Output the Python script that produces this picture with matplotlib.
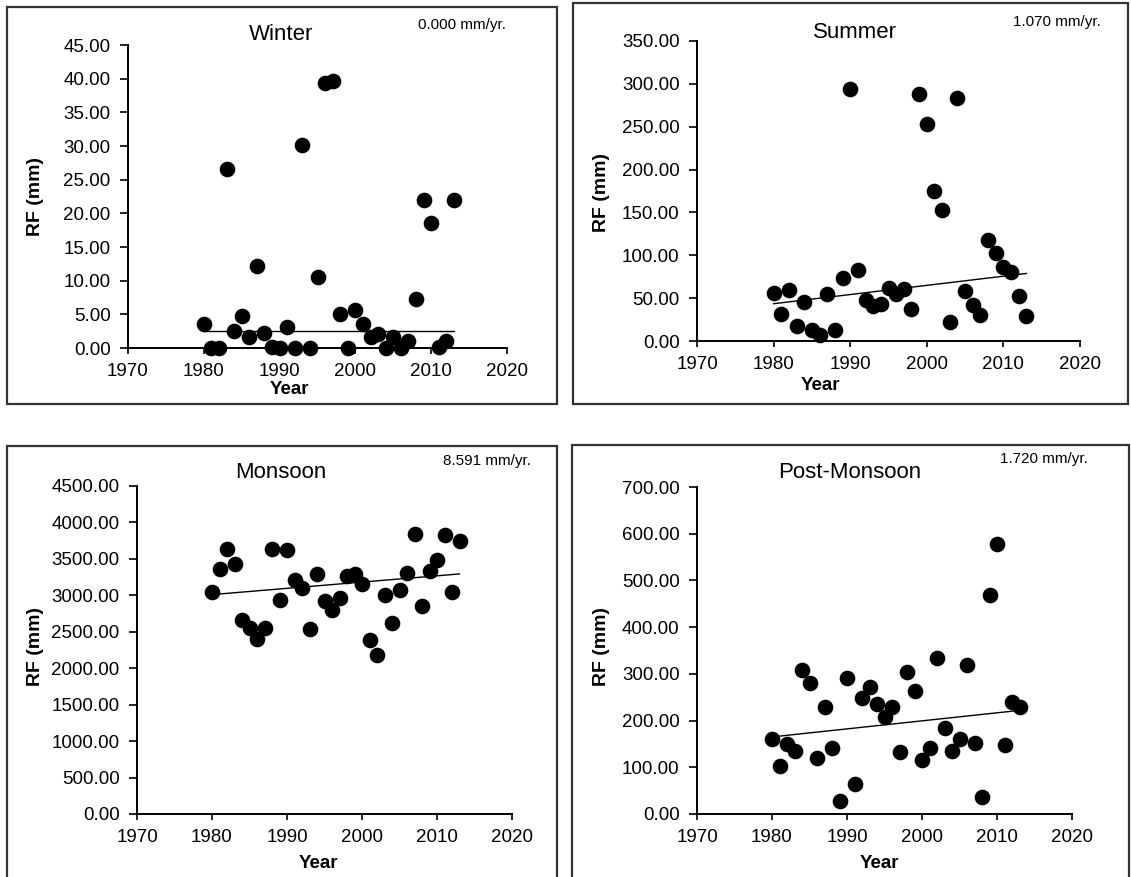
import numpy as np
import matplotlib.pyplot as plt
from matplotlib.patches import Rectangle
from matplotlib.ticker import FormatStrFormatter

W, H = 1131, 877

years = np.arange(1980, 2014)

# seasonal rainfall (mm), 1980-2013
winter = [3.6, 0.0, 0.0, 26.6, 2.5, 4.8, 1.6, 12.2, 2.3, 0.2, 0.0, 3.1, 0.0, 30.2, 0.0, 10.6, 39.4,
          39.7, 5.1, 0.0, 5.6, 3.5, 1.6, 2.1, 0.0, 1.7, 0.0, 1.1, 7.3, 22.0, 18.6, 0.2, 1.1, 22.0]
summer = [56.4, 31.9, 59.1, 17.1, 45.5, 12.4, 6.6, 54.5, 13.2, 73.9, 294.4, 83.2, 47.5, 40.4, 43.6,
          62.2, 55.2, 61.1, 37.0, 287.8, 253.6, 174.6, 152.5, 22.2, 283.9, 58.3, 41.6, 30.7, 118.2,
          102.7, 86.3, 80.5, 52.5, 28.8]
monsoon = [3047, 3367, 3641, 3435, 2659, 2545, 2398, 2558, 3641, 2942, 3618, 3207, 3107, 2535, 3289,
           2924, 2796, 2969, 3266, 3289, 3152, 2385, 2179, 3001, 2622, 3070, 3312, 3847, 2855, 3330,
           3490, 3824, 3047, 3746]
post_monsoon = [159.7, 103.4, 149.7, 135.4, 307.9, 279.4, 119.0, 228.0, 140.4, 27.8, 291.5, 63.4,
                247.3, 270.8, 235.2, 208.1, 228.0, 131.9, 304.3, 263.7, 115.5, 140.4, 335.0, 183.2,
                135.4, 160.4, 320.0, 151.1, 35.6, 468.3, 577.3, 147.5, 240.2, 228.0]

titles = ["Winter", "Summer", "Monsoon", "Post-Monsoon"]
series = [winter, summer, monsoon, post_monsoon]
slopes = [0.000, 1.070, 8.591, 1.720]       # mm/yr
intercepts = [2.5, 43.5, 3010, 165]          # trend value at 1980
ymax = [45, 350, 4500, 700]
ystep = [5, 50, 500, 100]
xticks = [1970, 1980, 1990, 2000, 2010, 2020]

# layout, in pixels of the 1131x877 picture
axes_px = [(128, 45, 507, 348), (697, 41, 1080, 341), (137, 486, 512, 814), (697, 487, 1072, 814)]
box_px = [(7, 7, 557, 404), (573, 3, 1128, 404), (7, 446, 557, 900), (572, 445, 1129, 900)]
title_px = [(281, 35), (855, 32), (281, 473), (850, 473)]
slope_px = [(462, 25), (1057, 22), (487, 461), (1044, 459)]
year_px = [(289, 390), (820, 386), (318, 863), (879, 863)]
rf_px = [(36, 197), (602, 193), (36, 647), (602, 647)]

plt.rcParams['font.family'] = ['Liberation Sans', 'DejaVu Sans']

fig = plt.figure(figsize=(W / 100, H / 100), dpi=100)


def fx(x):
    return x / W


def fy(y):
    return 1 - y / H


for i in range(4):
    x0, y0, x1, y1 = box_px[i]
    fig.add_artist(Rectangle((fx(x0), fy(y1)), fx(x1 - x0), (y1 - y0) / H, transform=fig.transFigure,
                             fill=False, edgecolor='#333333', linewidth=1.6))

    a0, b0, a1, b1 = axes_px[i]
    ax = fig.add_axes([fx(a0), fy(b1), fx(a1 - a0), (b1 - b0) / H])
    ax.scatter(years, series[i], s=105, color='black', zorder=3, clip_on=False)
    trend = intercepts[i] + slopes[i] * (years - 1980)
    ax.plot([years[0], years[-1]], [trend[0], trend[-1]], color='black', linewidth=1.0, zorder=2)

    ax.set_xlim(1970, 2020)
    ax.set_ylim(0, ymax[i])
    ax.set_xticks(xticks)
    ax.set_yticks(np.arange(0, ymax[i] + ystep[i] / 2, ystep[i]))
    ax.yaxis.set_major_formatter(FormatStrFormatter('%.2f'))
    ax.tick_params(direction='out', width=1.2, labelsize=13.5, colors='black')
    ax.tick_params(axis='x', length=4, pad=7)
    ax.tick_params(axis='y', length=5.5, pad=7)
    for side in ['top', 'right']:
        ax.spines[side].set_visible(False)
    for side in ['left', 'bottom']:
        ax.spines[side].set_linewidth(1.4)
    ax.patch.set_alpha(0)

    fig.text(fx(title_px[i][0]), fy(title_px[i][1]), titles[i], fontsize=16, ha='center', va='center')
    fig.text(fx(slope_px[i][0]), fy(slope_px[i][1]), "%.3f mm/yr." % slopes[i], fontsize=11,
             ha='center', va='center')
    fig.text(fx(year_px[i][0]), fy(year_px[i][1]), "Year", fontsize=13.5, fontweight='bold',
             ha='center', va='center')
    fig.text(fx(rf_px[i][0]), fy(rf_px[i][1]), "RF (mm)", fontsize=14, fontweight='bold',
             ha='center', va='center', rotation=90)

fig.savefig("out.png", dpi=100)
